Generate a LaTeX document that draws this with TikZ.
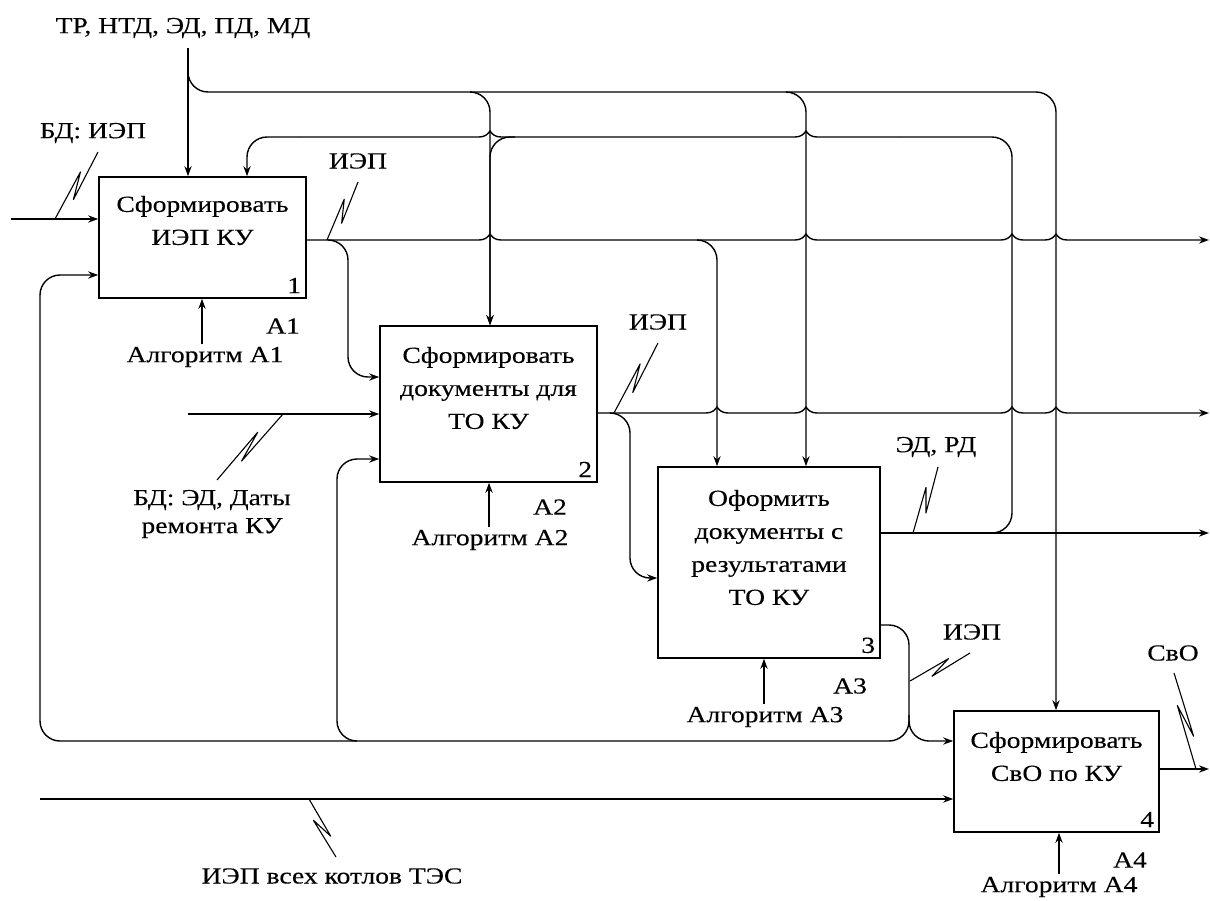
\documentclass[tikz,border=0pt]{standalone}
\usepackage{fontspec}
\setmainfont{Liberation Serif}[FakeStretch=1.2,FakeBold=0.2]
\usetikzlibrary{arrows.meta,calc}

\tikzset{
  box/.style={draw, line width=0.8pt, inner sep=0pt},
  boxtext/.style={align=center, font=\fontsize{11.5}{16.5}\selectfont},
  lbl/.style={align=center, inner sep=1pt},
  num/.style={anchor=south east, inner sep=2.5pt},
  arr/.style={-{Stealth[length=5pt,width=3.6pt]}},
  rarr/.style={{Stealth[length=5pt,width=3.6pt]}-},
  rc/.style={rounded corners=10pt},
}
% перескок линии через вертикаль (слева направо)
\newcommand{\hop}[2]{-- (#1-11,#2) .. controls (#1-5,#2) and (#1-2,#2-3) .. (#1,#2-6) .. controls (#1+2,#2-3) and (#1+5,#2) .. (#1+11,#2)}
% выноска-зигзаг от линии к подписи
\newcommand{\squig}[2]{%
  \path ($(#1)!0.67!(#2)$) coordinate (sqa) ($(#1)!0.33!(#2)$) coordinate (sqb);
  \draw[line width=0.55pt, line join=round] (#1) -- ($(sqa)!2pt!90:(#2)$) -- ($(sqb)!2.5pt!-90:(#2)$) -- (#2);}

\begin{document}
\begin{tikzpicture}[x=0.5pt, y=-0.5pt, line width=0.7pt, font=\fontsize{11.5}{14}\selectfont]
  \useasboundingbox (0,0) rectangle (1210,900);

  % Блоки
  \node[box, minimum width=103.5pt, minimum height=60.5pt] (b1) at (202.5,237.5) {};
  \node[box, minimum width=108.5pt, minimum height=78pt] (b2) at (488.5,404) {};
  \node[box, minimum width=111pt, minimum height=95.5pt] (b3) at (769,562.5) {};
  \node[box, minimum width=102.5pt, minimum height=60.5pt] (b4) at (1056.5,771.5) {};

  \node[boxtext] (t1) at ($(b1.center)+(0,-17)$) {Сформировать\\ИЭП КУ};
  \node[boxtext] (t2) at ($(b2.center)+(0,-16)$) {Сформировать\\документы для\\ТО КУ};
  \node[boxtext] (t3) at ($(b3.center)+(0,-15)$) {Оформить\\документы с\\результатами\\ТО КУ};
  \node[boxtext] (t4) at ($(b4.center)+(0,-15)$) {Сформировать\\СвО по КУ};
  \foreach \i in {1,...,4}
    \node[num] (n\i) at (b\i.south east) {\i};

  \node (c1) at (283,326) {А1};
  \node (c2) at (550,507) {А2};
  \node (c3) at (850,686) {А3};
  \node (c4) at (1130,860) {А4};

  % Подписи
  \node[lbl] (lctl) at (183,28) {ТР, НТД, ЭД, ПД, МД};
  \node[lbl] (lin1) at (93,133) {БД: ИЭП};
  \node[lbl] (lo1) at (358,161) {ИЭП};
  \node[lbl] (lo2) at (658,322) {ИЭП};
  \node[lbl] (lin2) at (212,514) {БД: ЭД, Даты\\ремонта КУ};
  \node[lbl] (lo3) at (936,447) {ЭД, РД};
  \node[lbl] (lo3b) at (972,632) {ИЭП};
  \node[lbl] (lo4) at (1173,653) {СвО};
  \node[lbl] (lin4) at (332,876) {ИЭП всех котлов ТЭС};

  \node[lbl] (m1) at (205,357) {Алгоритм А1};
  \node[lbl] (m2) at (490,540) {Алгоритм А2};
  \node[lbl] (m3) at (765,717) {Алгоритм А3};
  \node[lbl] (m4) at (1059,887) {Алгоритм А4};

  % Свободные концы
  \coordinate (ctl) at (188,48);
  \coordinate (i1) at (11,219);
  \coordinate (i2) at (188,414);
  \coordinate (i4) at (40,799);
  \coordinate (o1) at (1209,240);
  \coordinate (o2) at (1209,413);
  \coordinate (o3) at (1209,533);
  \coordinate (o4) at (1209,769);

  % Управление
  \draw[arr] (ctl) -- (ctl |- b1.north);
  \draw[arr, rc] (188,60) -- (188,92) -- (1056,92) -- (1056,0 |- b4.north);
  \draw[arr, rc] (470,92) -- (490,92) -- (490,0 |- b2.north);
  \draw[arr, rc] (786,92) -- (806,92) -- (806,0 |- b3.north);

  % Входы
  \draw[arr] (i1) -- (i1 -| b1.west);
  \draw[arr] (i2) -- (i2 -| b2.west);
  \draw[arr] (i4) -- (i4 -| b4.west);

  % Выходы
  \draw[arr] (o1 -| b1.east) \hop{490}{240} \hop{806}{240} \hop{1012}{240} \hop{1056}{240} -- (o1);
  \draw[arr] (o2 -| b2.east) \hop{717}{413} \hop{806}{413} \hop{1012}{413} \hop{1056}{413} -- (o2);
  \draw[arr] (o3 -| b3.east) -- (o3);
  \draw[arr] (o4 -| b4.east) -- (o4);

  % Ответвления
  \draw[arr, rc] (328,240) -- (348,240) -- (348,377) -- (b2.west |- 0,377);
  \draw[arr, rc] (697,240) -- (717,240) -- (717,0 |- b3.north);
  \draw[arr, rc] (610,413) -- (630,413) -- (630,578) -- (b3.west |- 0,578);
  % обратная связь ЭД, РД
  \draw[rarr, rc] (247,0 |- b1.north) -- (247,137) -- (300,137);
  \draw (300,137) \hop{490}{137} \hop{806}{137} -- (900,137);
  \draw[rc] (900,137) -- (1012,137) -- (1012,533) -- (992,533);
  \draw[arr, rc] (515,137) -- (490,137) -- (490,0 |- b2.north);
  % обратная связь ИЭП
  \draw[arr, rc] (b3.east |- 0,625) -- (909,625) -- (909,741) -- (b4.west |- 0,741);
  \draw[rarr, rc] (b1.west |- 0,275) -- (40,275) -- (40,741) -- (909,741) -- (909,715);
  \draw[arr, rc] (357,741) -- (337,741) -- (337,459) -- (b2.west |- 0,459);

  % Механизмы
  \draw[arr] (202,0 |- m1.north) -- (202,0 |- b1.south);
  \draw[arr] (489,0 |- m2.north) -- (489,0 |- b2.south);
  \draw[arr] (764,0 |- m3.north) -- (764,0 |- b3.south);
  \draw[arr] (1059,0 |- m4.north) -- (1059,0 |- b4.south);

  % Выноски
  \squig{55,219}{98,152}
  \squig{327,240}{358,182}
  \squig{614,413}{658,343}
  \squig{283,414}{217,480}
  \squig{913,533}{938,467}
  \squig{910,681}{970,653}
  \squig{1196,769}{1174,673}
  \squig{309,799}{336,857}
\end{tikzpicture}
\end{document}
